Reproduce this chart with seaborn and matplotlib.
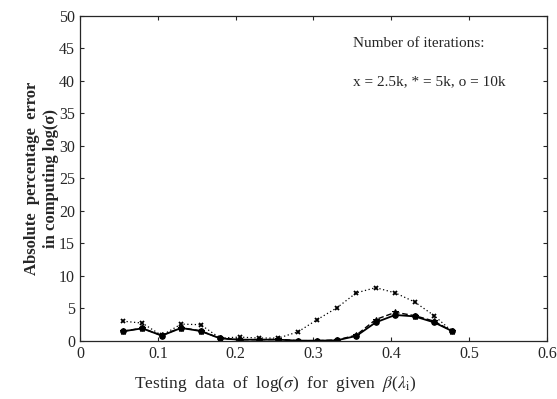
import numpy as np
import pandas as pd
import matplotlib
matplotlib.use('Agg')
import matplotlib.pyplot as plt
import seaborn as sns

# Testing points (log sigma) and absolute percentage error per iteration count
test_x = [0.055, 0.08, 0.105, 0.13, 0.155, 0.18, 0.205, 0.23, 0.255, 0.28,
          0.305, 0.33, 0.355, 0.38, 0.405, 0.43, 0.455, 0.478]
err_2_5k = [3.05, 2.75, 0.85, 2.6, 2.5, 0.45, 0.6, 0.45, 0.45, 1.4,
            3.3, 5.1, 7.4, 8.2, 7.4, 6.0, 3.9, 1.5]
err_5k = [1.5, 1.95, 0.85, 2.05, 1.55, 0.4, 0.2, 0.2, 0.25, 0.05,
          0.05, 0.15, 0.9, 3.3, 4.4, 3.9, 3.05, 1.5]
err_10k = [1.48, 1.94, 0.82, 2.0, 1.53, 0.4, 0.2, 0.2, 0.2, 0.05,
           0.05, 0.1, 0.77, 2.86, 4.0, 3.78, 2.86, 1.53]

yticks = [0, 5, 10, 15, 20, 25, 30, 35, 40, 45, 50]
xticks = [0, 0.1, 0.2, 0.3, 0.4, 0.5, 0.6]
xtick_labels = ['0', '0.1', '0.2', '0.3', '0.4', '0.5', '0.6']

sns.set_style('ticks')
plt.rcParams['font.family'] = ['Liberation Serif', 'DejaVu Serif']
plt.rcParams['mathtext.fontset'] = 'stix'

fig = plt.figure(figsize=(5.57, 3.99), dpi=100)
ax = fig.add_axes([0.1436, 0.1454, 0.8384, 0.815])

# 2.5k iterations: dotted with x markers
sns.lineplot(x=test_x, y=err_2_5k, color='black', linestyle=(0, (1, 2)),
             marker='x', markersize=3.5, markeredgewidth=1.3, markeredgecolor='black',
             linewidth=0.9, ax=ax)
# 5k iterations: dashed with stars
sns.lineplot(x=test_x, y=err_5k, color='black', linestyle=(0, (4, 2)),
             marker='*', markersize=5, markeredgecolor='black', linewidth=1.0, ax=ax)
# 10k iterations: solid with filled circles
sns.lineplot(x=test_x, y=err_10k, color='black', linestyle='-',
             marker='o', markersize=4, markeredgecolor='black', linewidth=1.3, ax=ax)

ax.set_xlim(0, 0.6)
ax.set_ylim(0, 50)
ax.set_xticks(xticks)
ax.set_xticklabels(xtick_labels)
ax.set_yticks(yticks)
ax.tick_params(direction='in', top=True, right=True, labelsize=11.5, length=3, width=0.8)
for s in ax.spines.values():
    s.set_linewidth(0.9)

ax.set_xlabel(r'Testing  data  of  log($\sigma$)  for  given  $\beta$($\lambda_{\rm i}$)',
              fontsize=12.5)
ax.xaxis.set_label_coords(0.418, -0.1)
ax.set_ylabel('Absolute  percentage  error\nin computing log(σ)',
              fontsize=12, fontweight='bold', labelpad=0, linespacing=1.3)

ax.text(0.351, 45.8, 'Number of iterations:', fontsize=11, va='center')
ax.text(0.351, 39.8, 'x = 2.5k, * = 5k, o = 10k', fontsize=11, va='center')

fig.savefig('out.png', dpi=100)
